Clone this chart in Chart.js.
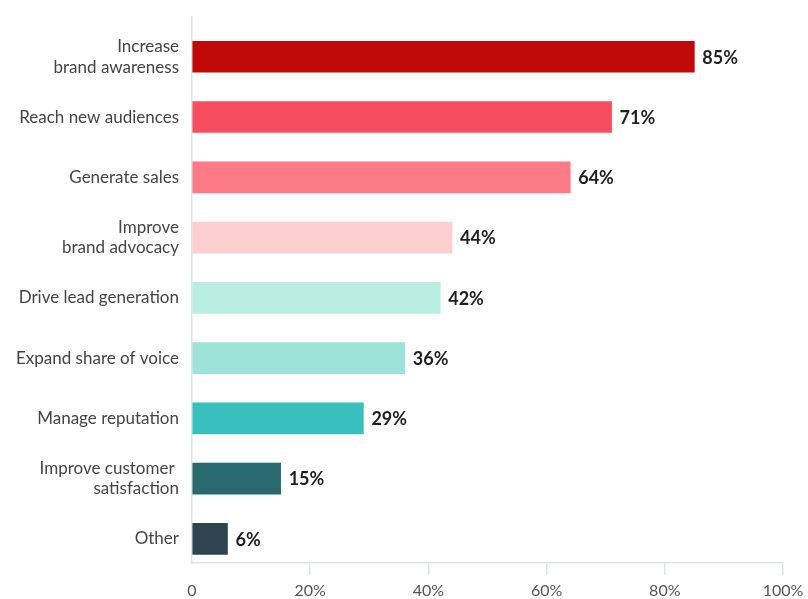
<!DOCTYPE html>
<html>
<head>
<meta charset="utf-8">
<script src="https://cdn.jsdelivr.net/npm/chart.js@4.4.1/dist/chart.umd.min.js"></script>
<style>
  html, body { margin: 0; padding: 0; background: #fff; }
  .container-canvas { width: 808px; height: 599px; }
</style>
</head>
<body>
<div class="container-canvas">
  <canvas id="myChart" width="808" height="599"></canvas>
</div>
<script>
const categories = [
  ['Increase', 'brand awareness'],
  'Reach new audiences',
  'Generate sales',
  ['Improve', 'brand advocacy'],
  'Drive lead generation',
  'Expand share of voice',
  'Manage reputation',
  ['Improve customer ', 'satisfaction'],
  'Other'
];
const percentages = [85, 71, 64, 44, 42, 36, 29, 15, 6];
const barColors = ['#c00a0a', '#f74d60', '#fd7b86', '#fdd0cf', '#b9eee0', '#9de3d8', '#38bfbe', '#286a6e', '#2e444f'];
const xTicks = [0, 20, 40, 60, 80, 100];

const axisColor = '#dbe5e5';
const ctx = document.getElementById('myChart');

// percentage written just past the end of each bar
const valueLabels = {
  id: 'valueLabels',
  afterDatasetsDraw(chart) {
    const c = chart.ctx;
    const meta = chart.getDatasetMeta(0);
    c.save();
    c.font = 'bold 18px Lato';
    c.fillStyle = '#1f1f1f';
    c.textAlign = 'left';
    c.textBaseline = 'middle';
    meta.data.forEach((bar, i) => {
      c.fillText(percentages[i] + '%', bar.x + 8, bar.y + 1);
    });
    c.restore();
  }
};

const myChart = new Chart(ctx, {
  type: 'bar',
  data: {
    datasets: [{
      data: percentages.map((v, i) => ({ x: v, y: i })),
      backgroundColor: barColors,
      borderWidth: 0,
      barThickness: 31
    }]
  },
  plugins: [valueLabels],
  options: {
    indexAxis: 'y',
    responsive: false,
    animation: false,
    layout: { padding: { top: 17, left: 0, right: 0, bottom: 0 } },
    plugins: {
      legend: { display: false },
      tooltip: { enabled: false }
    },
    scales: {
      x: {
        type: 'linear',
        min: 0,
        max: 100,
        afterBuildTicks: scale => { scale.ticks = xTicks.map(v => ({ value: v })); },
        afterFit: scale => { scale.height = 36; scale.paddingRight = 25; },
        border: { display: true, color: axisColor, width: 1.5 },
        grid: {
          drawOnChartArea: false,
          drawTicks: true,
          tickLength: 12,
          lineWidth: 1.5,
          color: c => c.index === 0 ? 'rgba(0,0,0,0)' : axisColor
        },
        ticks: {
          color: '#555',
          padding: 6,
          font: { family: 'Lato', size: 16 },
          callback: v => v === 0 ? '0' : v + '%'
        }
      },
      y: {
        type: 'linear',
        offset: false,
        reverse: true,
        min: -0.66,
        max: 8.4,
        afterBuildTicks: scale => { scale.ticks = categories.map((_, i) => ({ value: i })); },
        afterFit: scale => {
          scale.width = 192;
          scale.paddingTop = 0;
          scale.paddingBottom = 0;
        },
        border: { display: true, color: axisColor, width: 1.5 },
        grid: { display: false, drawTicks: false, offset: false },
        ticks: {
          color: '#444',
          padding: 13,
          font: { family: 'Lato', size: 17, lineHeight: 1.22 },
          callback: v => categories[v]
        }
      }
    }
  }
});
</script>
</body>
</html>
